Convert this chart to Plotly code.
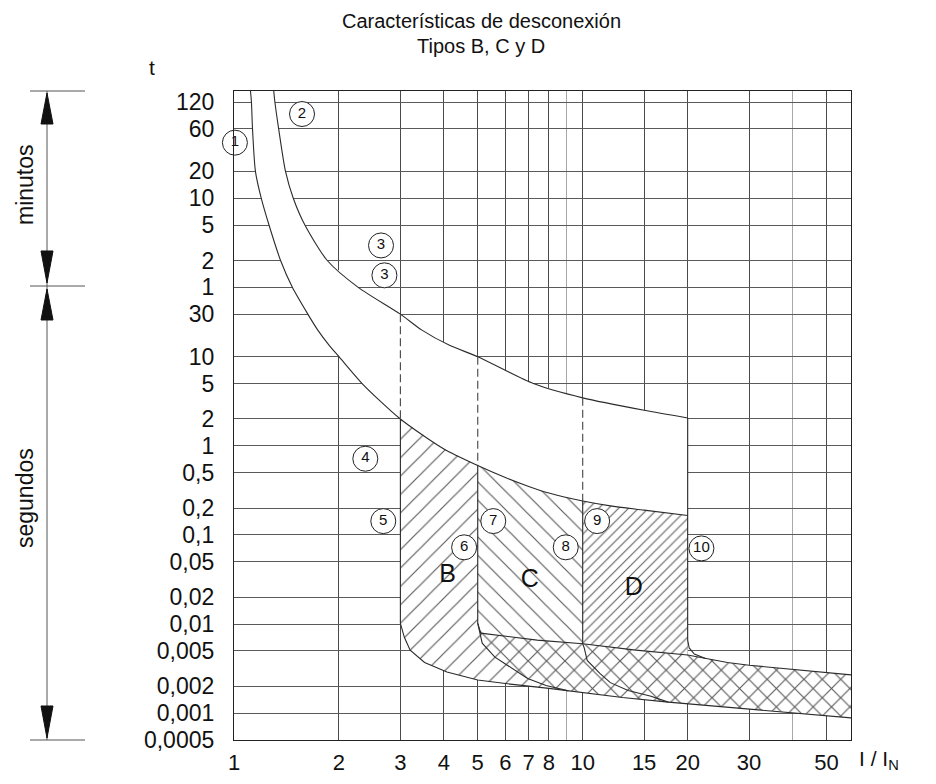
import math
import plotly.graph_objects as go

# ---------------- data (I/IN , t in seconds) ----------------
# curve 1: lower limit of the thermal band
lower_I = [1.115, 1.122, 1.13, 1.152, 1.197, 1.26, 1.36, 1.47, 1.628, 1.737, 1.875, 2.0, 2.33, 3, 4, 5, 6, 7, 8, 10, 12, 15, 20]
lower_t = [9570, 7200, 3600, 1200, 600, 300, 120, 60, 30, 20, 13.4, 10, 5, 2.0, 0.92, 0.6, 0.44, 0.35, 0.295, 0.24, 0.212, 0.19, 0.165]

# curve 2: upper limit of the thermal band
upper_I = [1.30, 1.31, 1.343, 1.405, 1.479, 1.597, 1.851, 2.27, 3, 3.45, 4.15, 5, 7.22, 10, 15, 20]
upper_t = [9570, 7200, 3600, 1200, 600, 300, 120, 60, 30, 20, 13.4, 10, 5, 3.45, 2.5, 2.05]

# magnetic region: upper (top) boundary line of the band at high currents
top_I = [5, 5.1, 7.4, 10, 14.2, 20, 22.5, 26, 30, 60]
top_t = [0.0102, 0.0079, 0.0066, 0.006, 0.0051, 0.0045, 0.0041, 0.0037, 0.00345, 0.00267]

# magnetic region: bottom boundary line
bottom_I = [3, 3.08, 3.2, 3.52, 4.08, 5, 6, 8, 9.1, 10, 13, 17.6, 26, 60]
bottom_t = [0.0102, 0.0071, 0.0051, 0.0037, 0.0029, 0.00236, 0.00215, 0.0019, 0.00178, 0.00172, 0.0015, 0.00133, 0.00117, 0.00088]

# rounded corners of the C and D bands
c_left_I = [5, 5.15, 5.6, 6.25, 6.95, 7.85, 9.1]
c_left_t = [0.0102, 0.0061, 0.00425, 0.0032, 0.00245, 0.00204, 0.00178]
d_left_I = [10, 10.1, 10.3, 11.2, 12.0, 13.5, 15.7, 17.6]
d_left_t = [0.006, 0.0054, 0.0039, 0.0028, 0.0022, 0.0018, 0.00155, 0.00133]
d_right_I = [20, 20.2, 20.9, 22.5]
d_right_t = [0.0066, 0.0054, 0.0046, 0.0041]

# type thresholds (I/IN)
types = ["B", "C", "D"]
type_lo = [3, 5, 10]
type_hi = [5, 10, 20]

# axis ticks
x_ticks = [1, 2, 3, 4, 5, 6, 7, 8, 10, 15, 20, 30, 50]
x_labels = ["1", "2", "3", "4", "5", "6", "7", "8", "10", "15", "20", "30", "50"]
x_minor = [9, 40]
y_ticks = [7200, 3600, 1200, 600, 300, 120, 60, 30, 10, 5, 2, 1, 0.5, 0.2, 0.1, 0.05,
           0.02, 0.01, 0.005, 0.002, 0.001, 0.0005]
y_labels = ["120", "60", "20", "10", "5", "2", "1", "30", "10", "5", "2", "1", "0,5", "0,2",
            "0,1", "0,05", "0,02", "0,01", "0,005", "0,002", "0,001", "0,0005"]

# numbered callouts
call_text = ["1", "2", "3", "3", "4", "5", "6", "7", "8", "9", "10"]
call_I = [1.006, 1.567, 2.64, 2.70, 2.38, 2.68, 4.57, 5.54, 8.94, 11.0, 21.9]
call_t = [2520, 5280, 177, 81.8, 0.716, 0.143, 0.0726, 0.143, 0.0726, 0.143, 0.0706]

# region letters
letter_I = [4.1, 7.05, 14.0]
letter_t = [0.035, 0.031, 0.025]

# ---------------- helpers ----------------
def sel(I, t, lo, hi):
    pts = [(a, b) for a, b in zip(I, t) if lo <= a <= hi]
    return [p[0] for p in pts], [p[1] for p in pts]

def at(I, t, x):
    return t[I.index(x)]

# polygons
band_x = lower_I + upper_I[::-1]
band_y = lower_t + upper_t[::-1]

lx, ly = sel(lower_I, lower_t, 3, 5)
B_x = lx + top_I + bottom_I[::-1]
B_y = ly + top_t + bottom_t[::-1]

lx, ly = sel(lower_I, lower_t, 5, 10)
tx, ty = sel(top_I, top_t, 10, 1000)
bx, by = sel(bottom_I, bottom_t, 9.1, 1000)
C_x = lx + tx + bx[::-1] + c_left_I[::-1]
C_y = ly + ty + by[::-1] + c_left_t[::-1]

lx, ly = sel(lower_I, lower_t, 10, 20)
tx, ty = sel(top_I, top_t, 10, 20)
D_x = lx + tx[::-1]
D_y = ly + ty[::-1]

polys = {"B": (B_x, B_y), "C": (C_x, C_y), "D": (D_x, D_y)}
patterns = {"B": dict(shape="/", size=13, solidity=0.09),
            "C": dict(shape="\\", size=13, solidity=0.09),
            "D": dict(shape="/", size=7, solidity=0.15)}

fig = go.Figure()

# white backing (hides the grid inside the band and the hatched areas)
for px_, py_ in [(band_x, band_y), (B_x, B_y), (C_x, C_y), (D_x, D_y)]:
    fig.add_trace(go.Scatter(x=px_, y=py_, fill="toself", fillcolor="white",
                             mode="none", hoverinfo="skip", showlegend=False))

# hatching
for k in types:
    px_, py_ = polys[k]
    p = patterns[k]
    fig.add_trace(go.Scatter(
        x=px_, y=py_, fill="toself", fillcolor="rgba(0,0,0,0)", mode="none",
        fillpattern=dict(shape=p["shape"], size=p["size"], solidity=p["solidity"],
                         fgcolor="#5a5a5a", bgcolor="rgba(0,0,0,0)", fillmode="replace"),
        hoverinfo="skip", showlegend=False))

LINE = dict(color="#2b2b2b", width=1.1)
# thermal curves (smoothed)
for ox, oy in [(lower_I, lower_t), (upper_I, upper_t)]:
    fig.add_trace(go.Scatter(x=ox, y=oy, mode="lines",
                             line=dict(color="#2b2b2b", width=1.1, shape="spline", smoothing=0.7),
                             hoverinfo="skip", showlegend=False))
outlines = [
    ([3] + bottom_I, [at(lower_I, lower_t, 3)] + bottom_t),
    ([5] + top_I, [at(lower_I, lower_t, 5)] + top_t),
    (c_left_I, c_left_t),
    ([10] + d_left_I, [at(lower_I, lower_t, 10)] + d_left_t),
    ([20] + d_right_I, [at(upper_I, upper_t, 20)] + d_right_t),
]
for ox, oy in outlines:
    fig.add_trace(go.Scatter(x=ox, y=oy, mode="lines", line=LINE,
                             hoverinfo="skip", showlegend=False))

# dashed thresholds inside the thermal band
for x0 in type_lo:
    fig.add_trace(go.Scatter(x=[x0, x0], y=[at(upper_I, upper_t, x0), at(lower_I, lower_t, x0)],
                             mode="lines", line=dict(color="#444", width=1.1, dash="8px,4px"),
                             hoverinfo="skip", showlegend=False))

# callouts
fig.add_trace(go.Scatter(
    x=call_I, y=call_t, mode="markers+text", text=call_text, textposition="middle center",
    marker=dict(symbol="circle", size=25, color="white", line=dict(color="#222", width=1)),
    textfont=dict(family="Liberation Sans, Arial, sans-serif", size=15, color="#111"),
    cliponaxis=False, hoverinfo="skip", showlegend=False))

# region letters
fig.add_trace(go.Scatter(
    x=letter_I, y=letter_t, mode="text", text=types, textposition="middle center",
    textfont=dict(family="Liberation Sans, Arial, sans-serif", size=25, color="#111"),
    hoverinfo="skip", showlegend=False))

SANS = "Liberation Sans, Arial, sans-serif"
TICKFONT = dict(family=SANS, size=22, color="#111")

fig.update_xaxes(type="log", range=[0, math.log10(58.8)], tickmode="array",
                 tickvals=x_ticks, ticktext=x_labels, ticks="", tickfont=TICKFONT,
                 ticklabelstandoff=2,
                 showgrid=True, gridcolor="#4a4a4a", gridwidth=1,
                 minor=dict(tickmode="array", tickvals=x_minor, showgrid=True,
                            gridcolor="#a8a8a8", gridwidth=1, ticks=""),
                 showline=True, mirror=True, linecolor="#222", linewidth=1.2,
                 zeroline=False, automargin=False)
fig.update_yaxes(type="log", range=[math.log10(0.0005), 3.981], tickmode="array",
                 tickvals=y_ticks, ticktext=y_labels, ticks="", tickfont=dict(family=SANS, size=23, color="#111"),
                 ticklabelstandoff=14,
                 showgrid=True, gridcolor="#5a5a5a", gridwidth=1,
                 showline=True, mirror=True, linecolor="#222", linewidth=1.2,
                 zeroline=False, automargin=False)

# the page body adds an 8px offset: size the figure so the plot area lands
# at x 234..851 and y 91..740 of the 936x784 window
OFF = 8
W, H = 920, 768
L, R, T, Bm = 226, 77, 83, 36
pw, ph = W - L - R, H - T - Bm

def pxx(x):
    return (x - OFF - L) / pw

def pxy(y):
    return (H - Bm - (y - OFF)) / ph

ann = [
    dict(text="Características de desconexión", x=pxx(481), y=pxy(21),
         font=dict(family=SANS, size=20, color="#111")),
    dict(text="Tipos B, C y D", x=pxx(481), y=pxy(46),
         font=dict(family=SANS, size=20, color="#111")),
    dict(text="t", x=pxx(152), y=pxy(67), font=dict(family=SANS, size=21, color="#111")),
    dict(text="minutos", x=pxx(25), y=pxy(185), textangle=-90,
         font=dict(family=SANS, size=23, color="#111")),
    dict(text="segundos", x=pxx(25), y=pxy(498), textangle=-90,
         font=dict(family=SANS, size=23, color="#111")),
    dict(text="I / I<sub>N</sub>", x=pxx(857), y=pxy(760), xanchor="left",
         font=dict(family=SANS, size=21, color="#111")),
]
annotations = []
for a in ann:
    d = dict(xref="paper", yref="paper", showarrow=False, xanchor="center", yanchor="middle")
    d.update(a)
    annotations.append(d)

# side scale with arrows (minutos / segundos)
shapes = []
GR = dict(color="#555", width=1)
shapes.append(dict(type="line", xref="paper", yref="paper", x0=pxx(47), x1=pxx(47),
                   y0=pxy(91), y1=pxy(740), line=GR))
for yy in (91, 286, 740):
    shapes.append(dict(type="line", xref="paper", yref="paper", x0=pxx(30), x1=pxx(85),
                       y0=pxy(yy), y1=pxy(yy), line=GR))

def tri(tip, base):
    return ("M {:.5f} {:.5f} L {:.5f} {:.5f} L {:.5f} {:.5f} Z".format(
        pxx(47), pxy(tip), pxx(41), pxy(base), pxx(53), pxy(base)))

for tip, base in [(93, 124), (283, 251), (289, 320), (738, 706)]:
    shapes.append(dict(type="path", xref="paper", yref="paper", path=tri(tip, base),
                       fillcolor="#111", line=dict(color="#111", width=1)))

fig.update_layout(width=W, height=H, margin=dict(l=L, r=R, t=T, b=Bm, pad=0),
                  paper_bgcolor="white", plot_bgcolor="white",
                  annotations=annotations, shapes=shapes, showlegend=False)

fig.write_html("out.html")
